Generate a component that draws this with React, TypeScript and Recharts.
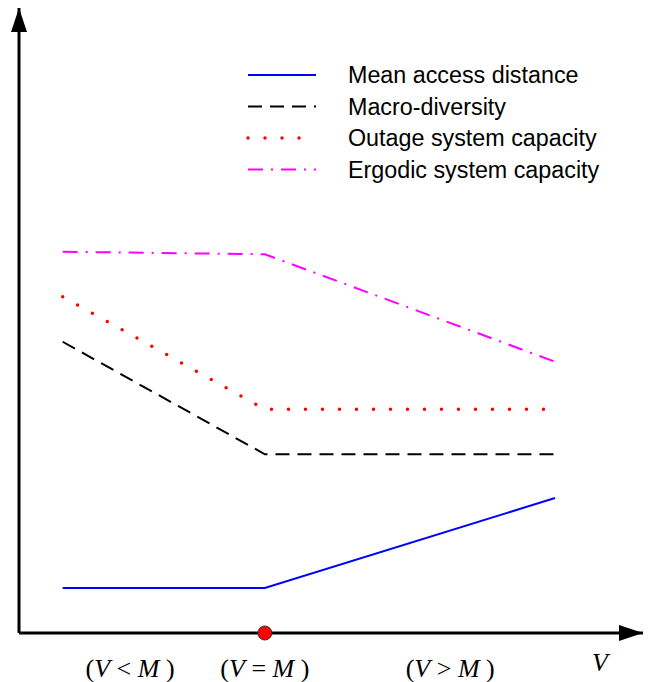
import { LineChart, Line, XAxis, YAxis, ReferenceDot } from 'recharts';

// x positions of the three regimes (V < M, V = M, V > M)
const xs = [0.7, 3.94, 8.59];

const meanAccess = [0.72, 0.72, 2.16];
const macroDiversity = [4.66, 2.86, 2.86];
const outageCapacity = [5.38, 3.58, 3.58];
const ergodicCapacity = [6.1, 6.06, 4.34];

const regimeTicks = [1.78, 3.94, 6.91, 9.31];
const regimeLabels = [
  ['(', 'V', ' < ', 'M', ' )'],
  ['(', 'V', ' = ', 'M', ' )'],
  ['(', 'V', ' > ', 'M', ' )'],
  ['', 'V', '', '', ''],
];

const seriesInfo = [
  { key: 'mean', name: 'Mean access distance', color: '#0000FF', dash: undefined, width: 2, cap: 'butt' },
  { key: 'macro', name: 'Macro-diversity', color: '#000000', dash: '14 8', width: 2, cap: 'butt' },
  { key: 'outage', name: 'Outage system capacity', color: '#FF0000', dash: '0 17', width: 3.5, cap: 'round' },
  { key: 'ergodic', name: 'Ergodic system capacity', color: '#FF00FF', dash: '15 8 2 8', width: 2, cap: 'butt' },
];

const data = xs.map((x, i) => ({
  x,
  mean: meanAccess[i],
  macro: macroDiversity[i],
  outage: outageCapacity[i],
  ergodic: ergodicCapacity[i],
}));

function RegimeTick({ x, y, index }: any) {
  const parts = regimeLabels[index] || ['', '', '', '', ''];
  const last = index === 3;
  return (
    <text
      x={x}
      y={y + (last ? 36 : 42)}
      textAnchor="middle"
      fontFamily="'Liberation Serif', 'Times New Roman', serif"
      fontSize={26}
      fill="#000"
      style={{ whiteSpace: 'pre' }}
    >
      <tspan>{parts[0]}</tspan>
      <tspan fontStyle="italic">{parts[1]}</tspan>
      <tspan>{parts[2]}</tspan>
      <tspan fontStyle="italic">{parts[3]}</tspan>
      <tspan>{parts[4]}</tspan>
    </text>
  );
}

function LegendBox() {
  return (
    <svg width={400} height={130} style={{ position: 'absolute', left: 240, top: 58 }}>
      {seriesInfo.map((s, i) => {
        const cy = 17 + i * 31.5;
        return (
          <g key={s.key}>
            <line
              x1={8}
              x2={76}
              y1={cy}
              y2={cy}
              stroke={s.color}
              strokeWidth={s.width}
              strokeDasharray={s.dash}
              strokeLinecap={s.cap as any}
            />
            <text
              x={108}
              y={cy + 8}
              fontFamily="'Liberation Sans', Arial, sans-serif"
              fontSize={23.3}
              fill="#000"
            >
              {s.name}
            </text>
          </g>
        );
      })}
    </svg>
  );
}

const yArrow = ({ cx, cy }: any) => (
  <polygon points={`${cx},${cy} ${cx - 8},${cy + 24} ${cx + 8},${cy + 24}`} fill="#000" />
);
const xArrow = ({ cx, cy }: any) => (
  <polygon points={`${cx},${cy} ${cx - 24},${cy - 8} ${cx - 24},${cy + 8}`} fill="#000" />
);

export default function App() {
  return (
    <div style={{ position: 'absolute', left: 0, top: 0, width: 649, height: 682, background: '#fff' }}>
      <LineChart
        width={649}
        height={682}
        data={data}
        margin={{ top: 8, right: 6, bottom: 0, left: 0 }}
      >
        <XAxis
          type="number"
          dataKey="x"
          domain={[0, 10]}
          ticks={regimeTicks}
          tick={<RegimeTick />}
          tickLine={false}
          tickSize={0}
          height={49}
          axisLine={{ stroke: '#000', strokeWidth: 3 }}
        />
        <YAxis
          type="number"
          domain={[0, 10]}
          width={19}
          tick={false}
          tickLine={false}
          axisLine={{ stroke: '#000', strokeWidth: 3 }}
        />
        {seriesInfo.map((s) => (
          <Line
            key={s.key}
            dataKey={s.key}
            name={s.name}
            type="linear"
            stroke={s.color}
            strokeWidth={s.width}
            strokeDasharray={s.dash}
            strokeLinecap={s.cap as any}
            dot={false}
            activeDot={false}
            isAnimationActive={false}
          />
        ))}
        <ReferenceDot x={0} y={10} r={1} shape={yArrow} ifOverflow="visible" />
        <ReferenceDot x={10} y={0} r={1} shape={xArrow} ifOverflow="visible" />
        <ReferenceDot x={3.94} y={0} r={7} fill="#FF0000" stroke="#333" strokeWidth={1} ifOverflow="visible" />
      </LineChart>
      <LegendBox />
    </div>
  );
}
